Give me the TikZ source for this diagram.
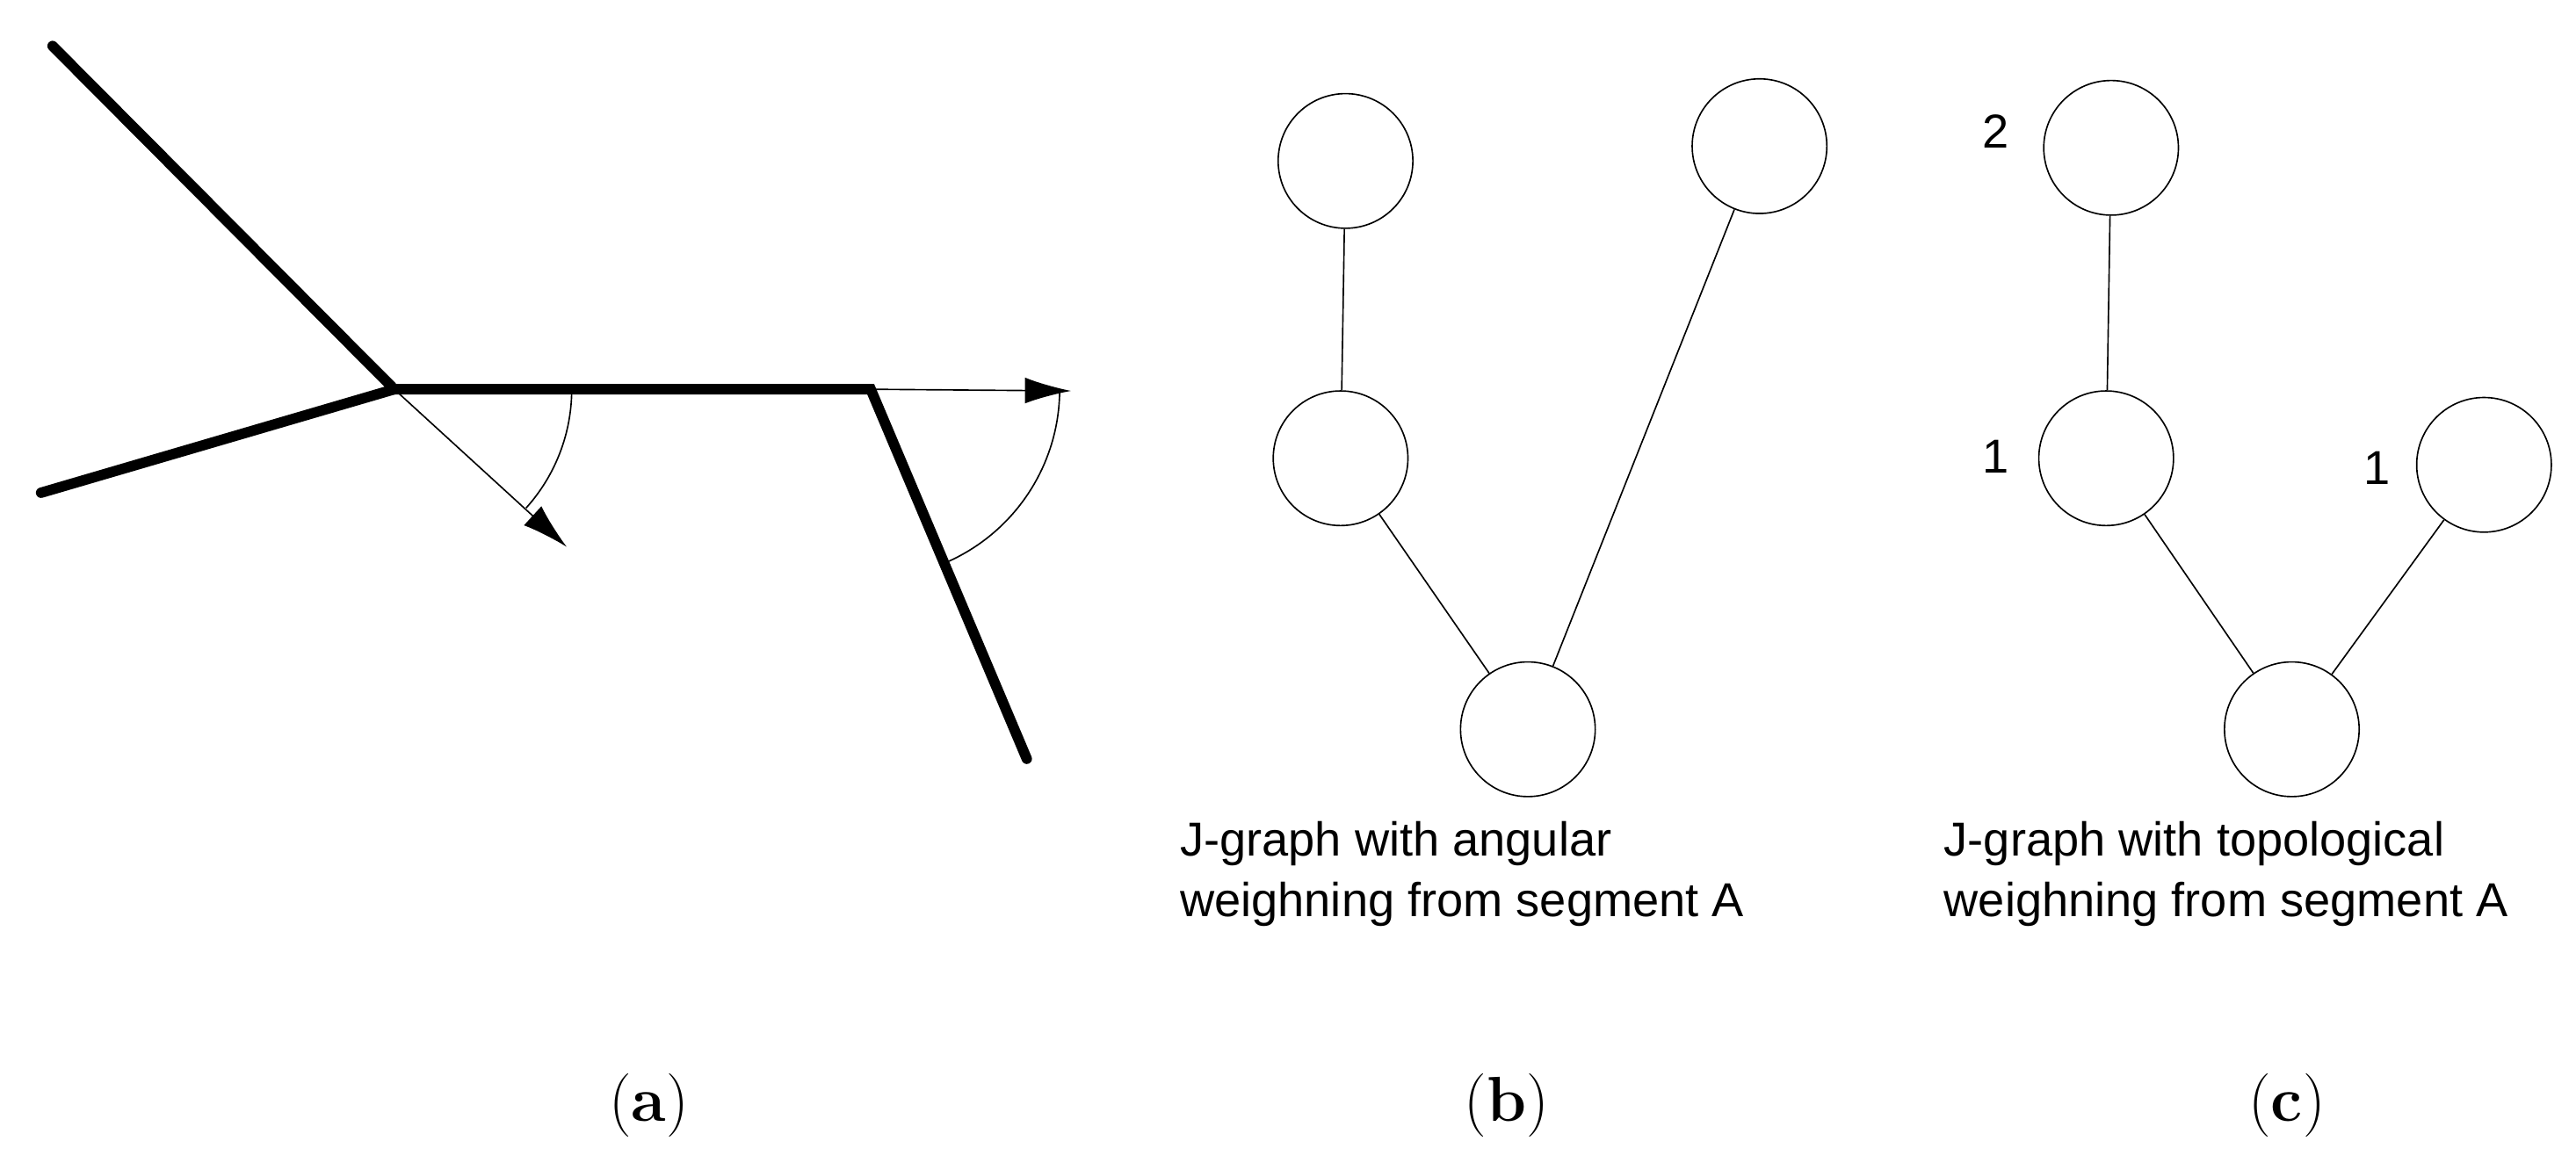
\documentclass[tikz,border=0pt]{standalone}
\usepackage{fontspec}
\newfontfamily\sans{Liberation Sans}
\usetikzlibrary{arrows.meta}
\begin{document}
\begin{tikzpicture}[x=0.02cm,y=-0.02cm,
 seg/.style={line width=3.6pt,line cap=round},
 thin/.style={line width=0.5pt},
 vtx/.style={circle,draw,line width=0.5pt,minimum size=1.64cm,inner sep=0pt},
 lbl/.style={font=\sans\fontsize{16.5}{21}\selectfont,align=left,anchor=north west,inner sep=0pt},
 captxt/.style={font=\fontsize{22}{26}\selectfont}]
\useasboundingbox (0,0) rectangle (1568,712);
% panel a
\coordinate (j1) at (240,237);
\coordinate (j2) at (530,237);
\coordinate (e1) at (32,28);
\coordinate (e2) at (25,300);
\coordinate (e3) at (625,462);
\coordinate (t1) at (345,333);
\coordinate (t2) at (652,238);
\draw[seg] (e1) -- (j1) -- (j2) -- (e3);
\draw[seg] (e2) -- (j1);
\draw[thin,-{Latex[length=16pt,width=9pt]}] (j1) -- (t1);
\draw[thin,-{Latex[length=16pt,width=9pt]}] (j2) -- (t2);
\draw[thin] (j1) ++(0:108) arc[start angle=0,end angle=42,radius=108];
\draw[thin] (j2) ++(0:115) arc[start angle=0,end angle=67,radius=115];
% panel b
\node[vtx] (b1) at (819,98) {};
\node[vtx] (b2) at (1071,89) {};
\node[vtx] (b3) at (816,279) {};
\node[vtx] (b4) at (930,444) {};
\draw[thin] (b1) -- (b3) -- (b4) -- (b2);
\node[lbl] (tb) at (718,500) {J-graph with angular\\weighning from segment A};
% panel c
\node[vtx] (c1) at (1285,90) {};
\node[vtx] (c2) at (1282,279) {};
\node[vtx] (c3) at (1512,283) {};
\node[vtx] (c4) at (1395,444) {};
\draw[thin] (c1) -- (c2) -- (c4) -- (c3);
\node[font=\sans\fontsize{16.5}{20}\selectfont] (n1) at (1215,80) {2};
\node[font=\sans\fontsize{16.5}{20}\selectfont] (n2) at (1215,278) {1};
\node[font=\sans\fontsize{16.5}{20}\selectfont] (n3) at (1447,285) {1};
\node[lbl] (tc) at (1183,500) {J-graph with topological\\weighning from segment A};
% captions
\node[captxt] (ca) at (395,673) {(\textbf{a})};
\node[captxt] (cb) at (917,673) {(\textbf{b})};
\node[captxt] (cc) at (1392,673) {(\textbf{c})};
\end{tikzpicture}
\end{document}
